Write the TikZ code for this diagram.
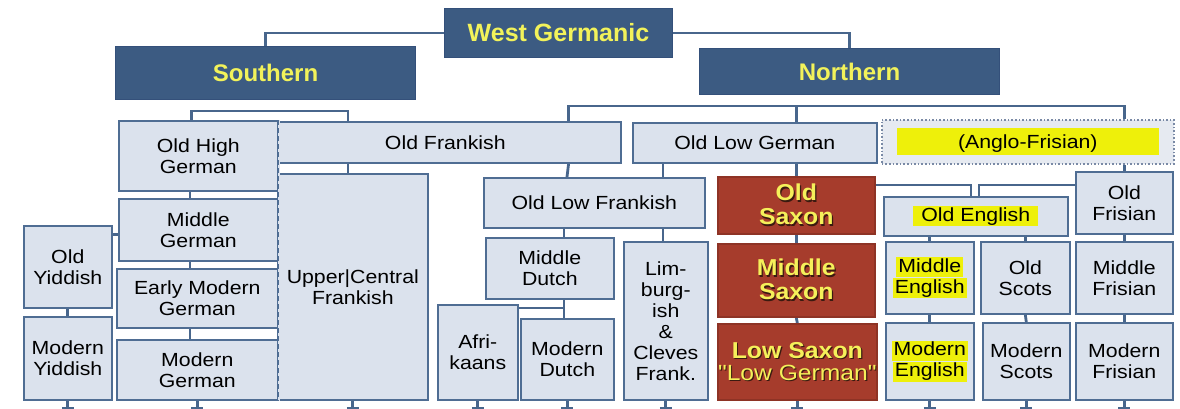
\documentclass[tikz,border=0pt]{standalone}
\usepackage{fontspec}
\setmainfont{Liberation Sans}
\newfontfamily\bfont[FakeStretch=1.12]{Liberation Sans}
\newfontfamily\rfont[FakeStretch=1.08]{Liberation Sans}
\usetikzlibrary{backgrounds}
\definecolor{boxfill}{HTML}{DBE2ED}
\definecolor{boxline}{HTML}{4F6D93}
\definecolor{connc}{HTML}{48668C}
\definecolor{headfill}{HTML}{3C5B82}
\definecolor{headline}{HTML}{34507A}
\definecolor{headtext}{HTML}{F2F25A}
\definecolor{redfill}{HTML}{A63C2C}
\definecolor{redline}{HTML}{8E3325}
\definecolor{redtext}{HTML}{F5F05A}
\definecolor{shd}{HTML}{3A1A10}
\definecolor{hl}{HTML}{EEF00A}
\definecolor{afline}{HTML}{7A8AA6}
\definecolor{affill}{HTML}{E6EAF1}
\newcommand\sh[1]{\leavevmode\rlap{\kern1.2pt\raisebox{-1.2pt}{\textcolor{shd}{#1}}}#1}
\newcommand\hlx[1]{{\setlength\fboxsep{0pt}\colorbox{hl}{\kern2pt\rule[-5pt]{0pt}{20pt}#1\kern2pt}}}
% \bx[style]{name}{x1}{y1}{x2}{y2}{text}
\newcommand\bx[7][box]{\node[#1,anchor=north west,minimum width={#5-#3},minimum height={#6-#4}] (#2) at (#3,#4) {#7};}
\tikzset{
  box/.style={draw=boxline, fill=boxfill, line width=1.6pt, inner sep=0pt, align=center, text=black, font=\bfont\fontsize{19}{21}\selectfont},
  headbox/.style={draw=headline, fill=headfill, line width=1pt, inner sep=0pt, align=center, text=headtext, font=\bfseries\fontsize{25}{28}\selectfont},
  redbox/.style={box, fill=redfill, draw=redline, text=redtext, font=\rfont\bfseries\fontsize{23}{24}\selectfont},
  afbox/.style={box, draw=afline, fill=affill, dotted, line width=1.6pt},
  conn/.style={draw=connc, line width=2.8pt},
  dashedge/.style={draw=boxline, line width=1.4pt, dash pattern=on 5pt off 3pt}
}
\begin{document}
\begin{tikzpicture}[x=1pt,y=-1pt]
\useasboundingbox (0,0) rectangle (1180,408);
% headers
\bx[headbox]{wg}{444}{8}{672}{57}{West Germanic}
\bx[headbox,font=\bfseries\fontsize{24}{28}\selectfont]{south}{115}{46}{415}{99}{Southern}
\bx[headbox,font=\bfseries\fontsize{24}{28}\selectfont]{north}{699}{48}{999}{94}{Northern}
% Frankish / High German
\bx{ofr}{277}{121}{620}{162}{\kern-8pt Old Frankish}
\bx{uc}{277}{173}{427}{399}{Upper|Central\\Frankish}
\bx{ohg}{118}{120}{277}{190}{Old High\\German}
\bx{mg}{118}{198}{277}{260}{Middle\\German}
\bx{emg}{116}{268}{277}{327}{Early Modern\\German}
\bx{mog}{116}{339}{277}{399}{Modern\\German}
\bx{oy}{23}{225}{111}{307}{Old\\Yiddish}
\bx{my}{23}{316}{111}{399}{Modern\\Yiddish}
\draw[draw=boxfill, line width=2pt] (ohg.north east) -- (mog.south east);
\draw[dashedge] (ohg.north east) -- (mog.south east);
% Low Franconian
\bx{olg}{632}{122}{876}{162}{Old Low German}
\bx{olf}{483}{177}{704}{227}{Old Low Frankish}
\bx{md}{485}{237}{613}{298}{Middle\\Dutch}
\bx{lim}{623}{241}{707}{399}{Lim-\\burg-\\ish\\\&\\Cleves\\Frank.}
\bx{afr}{437}{304}{517}{399}{Afri-\\kaans}
\bx{mdu}{520}{318}{613}{399}{Modern\\Dutch}
% Saxon
\bx[redbox]{os}{717}{176}{874}{233}{\sh{Old}\\\sh{Saxon}}
\bx[redbox]{ms}{717}{243}{874}{316}{\sh{Middle}\\\sh{Saxon}}
\bx[redbox,font=\rfont\bfseries\fontsize{23}{22}\selectfont]{ls}{717}{323}{876}{399}{\sh{Low Saxon}\\{\bfont\mdseries\fontsize{22}{22}\selectfont\sh{"Low German"}}}
% Anglo-Frisian
\bx[afbox]{af}{881}{119}{1173}{163}{{\setlength\fboxsep{0pt}\colorbox{hl}{\makebox[262pt]{\rule[-7pt]{0pt}{27pt}(Anglo-Frisian)}}}}
\bx{ofri}{1075}{171}{1172}{233}{Old\\Frisian}
\bx{oe}{883}{196}{1067}{235}{\hlx{\kern6pt Old English\kern6pt}}
\bx{me}{885}{241}{973}{313}{\hlx{Middle}\\\hlx{English}}
\bx{osc}{980}{241}{1069}{313}{Old\\Scots}
\bx{mfri}{1075}{241}{1172}{313}{Middle\\Frisian}
\bx{moe}{885}{322}{973}{399}{\hlx{Modern}\\\hlx{English}}
\bx{mosc}{982}{322}{1069}{399}{Modern\\Scots}
\bx{mofri}{1075}{322}{1172}{399}{Modern\\Frisian}
\begin{pgfonlayer}{background}
\fill[white] (0,0) rectangle (1180,408);
\draw[conn] (south.north) |- (wg.center) -| (north.north);
\draw[conn] ([xshift=-7pt]ohg.north) |- ([yshift=-11pt]south.south) -| ([xshift=71pt]ofr.north west);
\draw[conn] ([xshift=-53pt]ofr.north east) |- ([yshift=-11pt]north.south) -| (ofri.north |- af.north);
\draw[conn] (olg.north -| os.north) |- ([yshift=-11pt]north.south);
\draw[conn] ([xshift=71pt]ofr.south west) -- ([xshift=71pt]uc.north west);
\draw[conn] ([xshift=72pt]ohg.south west) -- ([xshift=72pt]mg.north west);
\draw[conn] ([xshift=72pt]mg.south west) -- ([xshift=74pt]emg.north west);
\draw[conn] ([xshift=74pt]emg.south west) -- ([xshift=74pt]mog.north west);
\coordinate (mgy) at ([yshift=-5pt]mg.west);
\draw[conn] (mgy) -- (mgy -| oy.east);
\draw[conn] (oy.south) -- (my.north);
\draw[conn] ([xshift=31pt]olg.south west) -- ([xshift=180pt]olf.north west);
\draw[conn] ([xshift=-53pt]ofr.south east) -- ([xshift=84pt]olf.north west);
\draw[conn] ([xshift=81pt]olf.south west) -- ([xshift=79pt]md.north west);
\draw[conn] ([xshift=180pt]olf.south west) -- ([xshift=40pt]lim.north west);
\draw[conn] ([xshift=79pt]md.south west) -- ([xshift=44pt]mdu.north west);
\draw[conn] ([yshift=-4pt]afr.north east) -| ([xshift=79pt]md.south west);
\draw[conn] (olg.south -| os.north) -- (os.north);
\draw[conn] (os.south) -- (ms.north);
\draw[conn] (ms.south) -- (ls.north);
\draw[conn] ([yshift=-9pt]os.north east) -| ([xshift=88pt]oe.north west);
\draw[conn] ([yshift=-14pt]ofri.north west) -| ([xshift=96pt]oe.north west);
\draw[conn] (af.south -| ofri.north) -- (ofri.north);
\draw[conn] (oe.south -| me.north) -- (me.north);
\draw[conn] (oe.south -| osc.north) -- (osc.north);
\draw[conn] (me.south) -- (moe.north);
\draw[conn] (osc.south) -- (mosc.north);
\draw[conn] (ofri.south) -- (mfri.north);
\draw[conn] (mfri.south) -- (mofri.north);
\foreach \n in {my,mog,uc,afr,mdu,lim,ls,moe,mosc,mofri}{
  \draw[conn] (\n.south) -- ++(0,7) coordinate (e\n);
  \draw[conn, line width=2pt] ([xshift=-6pt]e\n) -- ([xshift=6pt]e\n);
}
\end{pgfonlayer}
\end{tikzpicture}
\end{document}
